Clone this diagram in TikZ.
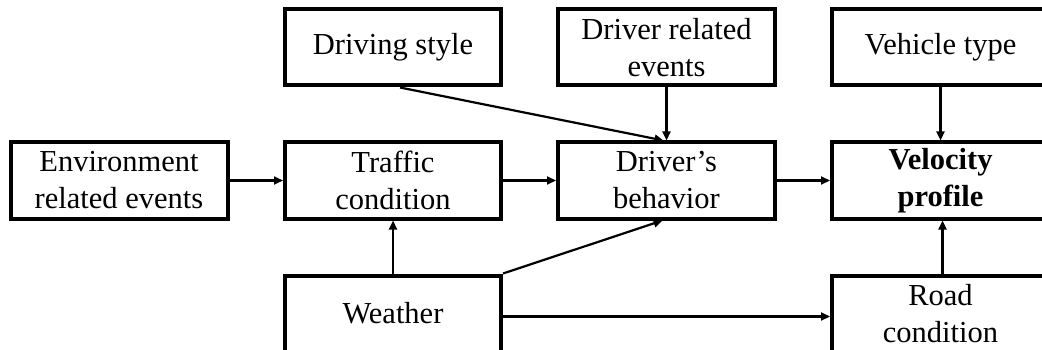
\documentclass[tikz,border=0pt]{standalone}
\usepackage{fontspec}
\setmainfont{Liberation Serif}
\usetikzlibrary{arrows.meta,calc}
\begin{document}
\begin{tikzpicture}[x=1pt,y=-1pt,
  box/.style={draw,line width=4pt,minimum width=216pt,minimum height=76pt,align=center,inner sep=0pt,
    font=\fontsize{30.5}{37}\selectfont},
  conn/.style={line width=2.2pt,-{Triangle[length=9pt,width=8pt]}}]
\clip (0,0) rectangle (1042,350);
\useasboundingbox (0,0) rectangle (1042,350);
\fill[white] (0,0) rectangle (1042,350);
\node[box,minimum width=217pt] (env) at (119,180.5) {Environment\\related events};
\node[box] (traffic) at (393,180.5) {Traffic\\condition};
\node[box] (weather) at (393,313.5) {Weather};
\node[box] (driving) at (393,47.5) {Driving style};
\node[box,minimum width=217pt] (driverrel) at (666.5,47.5) {Driver related\\events};
\node[box,minimum width=217pt] (behavior) at (666.5,180.5) {Driver's\\behavior};
\node[box,minimum width=217pt] (vehicle) at (940.5,47.5) {Vehicle type};
\node[box,minimum width=217pt] (velocity) at (940.5,180.5) {\textbf{Velocity}\\\textbf{profile}};
\node[box,minimum width=217pt] (road) at (940.5,313.5) {Road\\condition};
\draw[conn] (env) -- (traffic);
\draw[conn] (traffic) -- (behavior);
\draw[conn] (behavior) -- (velocity);
\draw[conn] (weather) -- (traffic);
\draw[conn] ([xshift=7pt]driving.south) -- ([xshift=-3pt]behavior.north);
\draw[conn] (driverrel) -- (behavior);
\draw[conn] (weather.north east) -- ([xshift=-4pt]behavior.south);
\draw[conn] ([yshift=-3pt]weather.east) -- ([yshift=-3pt]road.west);
\draw[conn] (vehicle) -- (velocity);
\draw[conn] ([xshift=2pt]road.north) -- ([xshift=2pt]velocity.south);
\end{tikzpicture}
\end{document}
